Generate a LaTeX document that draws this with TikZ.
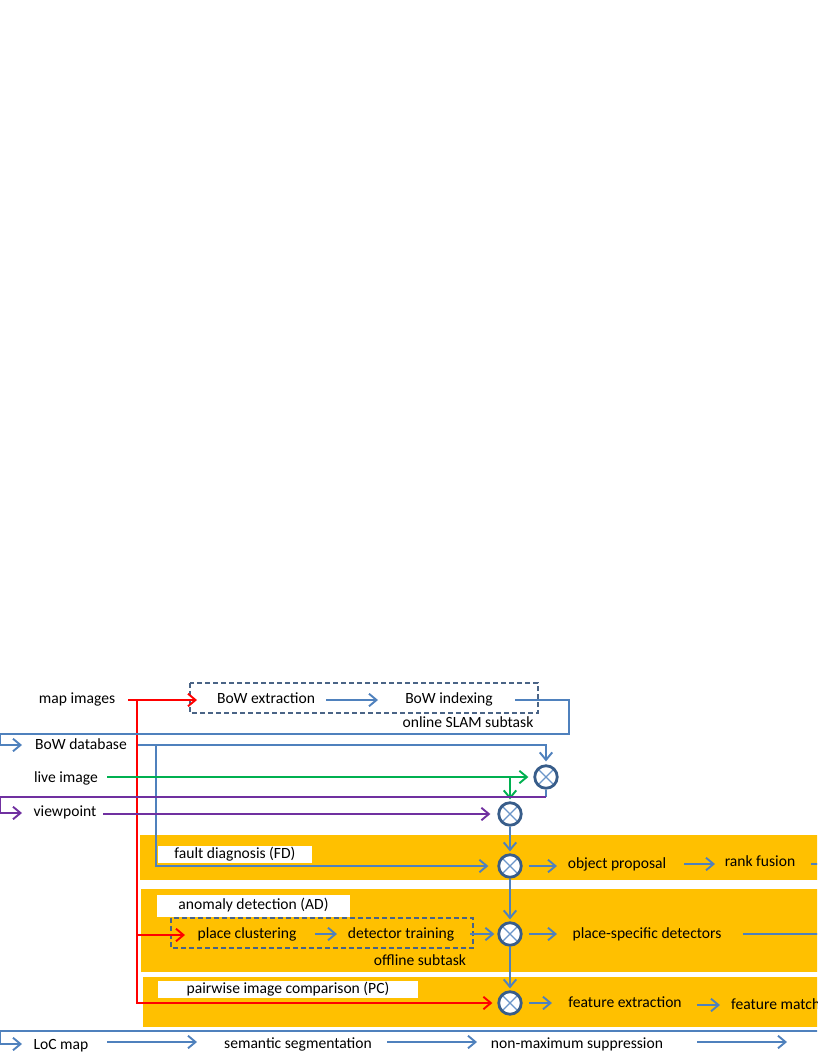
\documentclass[tikz,border=0pt]{standalone}
\usepackage{fontspec}
\setmainfont{Carlito}
\usetikzlibrary{arrows.meta,calc}
\definecolor{lblue}{HTML}{4F81BD}
\definecolor{cdark}{HTML}{385D8A}
\definecolor{xblue}{HTML}{6A95C9}
\definecolor{dashc}{HTML}{4A6486}
\definecolor{bandc}{HTML}{FFC000}
\definecolor{gline}{HTML}{00B050}
\definecolor{pline}{HTML}{7030A0}
\begin{document}
\begin{tikzpicture}[x=1pt,y=-1pt,
  font=\fontsize{15.6}{18}\selectfont,
  txt/.style={inner sep=0pt, text height=10pt, text depth=3pt},
  wlabel/.style={fill=white, inner sep=0pt, text height=10pt, text depth=3pt},
  bl/.style={draw=lblue, line width=1.2pt},
  redl/.style={draw=red, line width=1.2pt},
  gl/.style={draw=gline, line width=1.2pt},
  pl/.style={draw=pline, line width=1.2pt},
  tip/.style={-{Straight Barb[length=7.5pt,width=12.5pt,line width=1.9pt]}},
  dbox/.style={draw=dashc, line width=1.3pt, dash pattern=on 5pt off 3pt},
  band/.style={fill=bandc},
  sum/.style={circle, draw=cdark, line width=2.8pt, fill=white, minimum size=22.5pt, inner sep=0pt,
    path picture={\draw[xblue, line width=1.3pt]
      (path picture bounding box.north west) -- (path picture bounding box.south east)
      (path picture bounding box.north east) -- (path picture bounding box.south west);}}
]
\path[use as bounding box, fill=white] (0,0) rectangle (817,1058);
\clip (0,0) rectangle (817,1058);

% bands
\fill[band] (140,835) rectangle (830,880);
\fill[band] (141,889) rectangle (830,972);
\fill[band] (143,977) rectangle (830,1027);

% white labels
\node[wlabel, minimum width=154pt, minimum height=17pt] (fdl) at (235,854.5) {fault diagnosis (FD)};
\node[wlabel, minimum width=193pt, minimum height=22pt] (adl) at (253.5,906) {anomaly detection (AD)};
\node[wlabel, minimum width=260pt, minimum height=17pt] (pcl) at (288,989.5) {pairwise image comparison (PC)};

% dashed boxes
\draw[dbox] (190,683) rectangle (538,713);
\draw[dbox] (171,918) rectangle (473,948);

% texts
\node[txt] (map) at (77,700) {map images};
\node[txt] (bowx) at (266,700) {BoW extraction};
\node[txt] (bowi) at (449,700) {BoW indexing};
\node[txt] (slam) at (468,724) {online SLAM subtask};
\node[txt] (bowdb) at (81,746) {BoW database};
\node[txt] (live) at (66,779) {live image};
\node[txt] (view) at (65,813) {viewpoint};
\node[txt] (objp) at (617,865) {object proposal};
\node[txt] (rank) at (760,863) {rank fusion};
\node[txt] (plc) at (247,935) {place clustering};
\node[txt] (dett) at (401,935) {detector training};
\node[txt] (off) at (420,962) {offline subtask};
\node[txt] (psd) at (647,935) {place-specific detectors};
\node[txt] (fex) at (625,1004) {feature extraction};
\node[txt,anchor=west] (fma) at (731,1006) {feature matching};
\node[txt] (loc) at (61,1046) {LoC map};
\node[txt] (sem) at (298,1045) {semantic segmentation};
\node[txt] (nms) at (577,1045) {non-maximum suppression};

% circles
\node[sum] (c1) at (546,777) {};
\node[sum] (c2) at (510,814) {};
\node[sum] (cfd) at (510,866) {};
\node[sum] (cad) at (510,934) {};
\node[sum] (cpc) at (510,1003) {};

% coordinates
\coordinate (r0) at (128,700);
\coordinate (rt1) at (197,700);
\coordinate (rv) at (137,700);
\coordinate (rbr) at (137,935);
\coordinate (rbt) at (185,935);
\coordinate (b1s) at (326,700);
\coordinate (b1t) at (378,700);
\coordinate (b2s) at (515,700);
\coordinate (b2a) at (569,700);
\coordinate (b2b) at (569,734);
\coordinate (b2c) at (0.7,734);
\coordinate (b2d) at (0.7,745);
\coordinate (b2t) at (22,745);
\coordinate (dbs) at (138,745);
\coordinate (dbv) at (156,745);
\coordinate (gs) at (107,777);
\coordinate (pc0) at (546,797);
\coordinate (pc1) at (0.7,797);
\coordinate (pc2) at (0.7,813);
\coordinate (pt) at (22,813);
\coordinate (vs) at (103,814);
\coordinate (ot) at (557,866);
\coordinate (ra) at (684,864);
\coordinate (rb) at (715,864);
\coordinate (rc) at (811,864);
\coordinate (rd) at (830,864);
\coordinate (da) at (315,934);
\coordinate (db) at (337,934);
\coordinate (dc) at (470,934);
\coordinate (pst) at (557,934);
\coordinate (pse) at (743,934);
\coordinate (psf) at (830,934);
\coordinate (fxt) at (552,1003);
\coordinate (fma1) at (697,1005);
\coordinate (fma2) at (720,1005);
\coordinate (l0) at (830,1031);
\coordinate (l1) at (0.7,1031);
\coordinate (l2) at (0.7,1044);
\coordinate (l3) at (22,1044);
\coordinate (s1) at (107,1042);
\coordinate (s2) at (197,1042);
\coordinate (n1) at (387,1042);
\coordinate (n2) at (477,1042);
\coordinate (m1) at (697,1042);
\coordinate (m2) at (787,1042);

% red
\draw[redl,tip] (r0) -- (rt1);
\draw[redl,tip,shorten >=5pt] (rv) |- (cpc.west);
\draw[redl,tip] (rbr) -- (rbt);

% blue top
\draw[bl,tip] (b1s) -- (b1t);
\draw[bl,tip] (b2s) -- (b2a) -- (b2b) -- (b2c) -- (b2d) -- (b2t);
\draw[bl,tip,shorten >=3pt] (dbs) -| (c1.north);
\draw[bl,tip,shorten >=9pt] (dbv) |- (cfd.west);

% green
\draw[gl,tip,shorten >=5pt] (gs) -- (c1.west);
\draw[gl,tip,shorten >=2pt] (c2.north |- c1.west) -- (c2.north);

% purple
\draw[bl] (c1.south) -- (pc0);
\draw[pl,tip] (pc0) -- (pc1) -- (pc2) -- (pt);
\draw[pl,tip,shorten >=7pt] (vs) -- (c2.west);

% vertical chain
\draw[bl,tip,shorten >=2pt] (c2.south) -- (cfd.north);
\draw[bl,tip,shorten >=2pt] (cfd.south) -- (cad.north);
\draw[bl,tip,shorten >=2pt] (cad.south) -- (cpc.north);

% FD row
\draw[bl,tip,shorten <=6pt] (cfd.east) -- (ot);
\draw[bl,tip] (ra) -- (rb);
\draw[bl] (rc) -- (rd);

% AD row
\draw[bl,tip] (da) -- (db);
\draw[bl,tip,shorten >=3pt] (dc) -- (cad.west);
\draw[bl,tip,shorten <=6pt] (cad.east) -- (pst);
\draw[bl] (pse) -- (psf);

% PC row
\draw[bl,tip,shorten <=6pt] (cpc.east) -- (fxt);
\draw[bl,tip] (fma1) -- (fma2);

% bottom
\draw[bl,tip] (l0) -- (l1) -- (l2) -- (l3);
\draw[bl,tip] (s1) -- (s2);
\draw[bl,tip] (n1) -- (n2);
\draw[bl,tip] (m1) -- (m2);
\end{tikzpicture}
\end{document}
